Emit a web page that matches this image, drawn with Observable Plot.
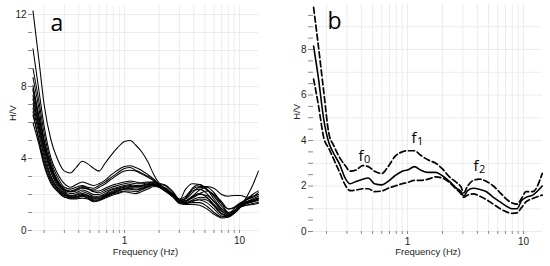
<!DOCTYPE html>
<html><head><meta charset="utf-8">
<script src="https://cdn.jsdelivr.net/npm/d3@7"></script>
<script src="https://cdn.jsdelivr.net/npm/@observablehq/plot@0.6"></script>
<style>
body{margin:0;background:#fff;}
#wrap{display:flex;width:550px;height:266px;overflow:hidden;}
#wrap svg{display:block;flex:none;}
</style></head><body><div id="wrap"></div>
<script>
// ---- Panel a: individual H/V curves ----
const freqA = [0.16, 0.18, 0.2, 0.23, 0.26, 0.3, 0.34, 0.38, 0.43, 0.48, 0.54, 0.6, 0.68, 0.77, 0.87, 1.0, 1.12, 1.25, 1.4, 1.6, 1.8, 2.0, 2.3, 2.65, 3.0, 3.4, 3.9, 4.5, 5.2, 6.0, 7.0, 8.0, 9.0, 10.2, 11.5, 13, 14.6];
const curveA = [12.2, 9.5, 7.0, 5.0, 4.0, 3.3, 3.2, 3.5, 3.85, 3.7, 3.45, 3.3, 3.75, 4.2, 4.6, 4.95, 5.0, 4.75, 4.4, 3.8, 3.1, 2.65, 2.5, 2.15, 1.75, 1.9, 2.3, 2.45, 2.45, 2.35, 2.0, 1.9, 1.95, 1.95, 1.85, 1.9, 2.0];
const curveB = [10.1, 7.8, 5.8, 4.0, 3.2, 2.6, 2.4, 2.55, 2.7, 2.6, 2.5, 2.6, 2.8, 3.1, 3.35, 3.55, 3.6, 3.5, 3.35, 3.1, 2.85, 2.6, 2.45, 2.1, 1.7, 2.3, 2.6, 2.55, 2.25, 1.95, 1.5, 1.2, 1.3, 1.55, 1.7, 1.85, 2.1];
const curveC = [9.0, 7.2, 5.4, 3.8, 3.0, 2.4, 2.3, 2.4, 2.5, 2.4, 2.35, 2.5, 2.7, 2.95, 3.2, 3.45, 3.5, 3.35, 3.2, 3.0, 2.8, 2.5, 2.35, 2.0, 1.65, 1.8, 2.2, 2.3, 2.05, 1.6, 1.2, 0.95, 1.1, 1.35, 1.55, 1.7, 1.8];
const curveD = [8.5, 6.8, 5.0, 3.6, 2.8, 2.3, 2.15, 2.25, 2.4, 2.3, 2.25, 2.4, 2.6, 2.85, 3.1, 3.3, 3.35, 3.3, 3.15, 2.95, 2.75, 2.5, 2.3, 1.95, 1.6, 1.65, 1.9, 2.05, 1.85, 1.45, 1.05, 0.9, 1.0, 1.3, 1.5, 1.6, 1.75];
const curveE = [8.05, 6.4, 5.0, 3.5, 2.7, 2.2, 2.05, 2.1, 2.25, 2.15, 2.0, 2.0, 2.15, 2.3, 2.4, 2.5, 2.55, 2.5, 2.5, 2.6, 2.65, 2.55, 2.3, 2.0, 1.65, 1.8, 2.35, 2.55, 2.3, 1.75, 1.2, 0.95, 1.2, 1.5, 1.6, 1.7, 1.8];
const curveF = [7.8, 6.1, 4.7, 3.3, 2.6, 2.15, 1.95, 2.0, 2.15, 2.05, 1.9, 1.9, 2.05, 2.25, 2.35, 2.45, 2.5, 2.45, 2.5, 2.55, 2.6, 2.5, 2.25, 1.95, 1.6, 1.6, 1.9, 2.25, 2.4, 2.1, 1.5, 1.0, 1.1, 1.45, 1.6, 1.75, 1.9];
const curveG = [7.5, 5.9, 4.5, 3.2, 2.5, 2.1, 1.9, 1.95, 2.05, 1.95, 1.8, 1.8, 1.95, 2.1, 2.25, 2.35, 2.4, 2.4, 2.45, 2.55, 2.6, 2.45, 2.2, 1.9, 1.6, 1.55, 1.7, 1.85, 1.8, 1.4, 0.95, 0.85, 1.0, 1.35, 1.5, 1.6, 1.7];
const curveH = [7.05, 5.6, 4.3, 3.0, 2.4, 2.05, 1.85, 1.85, 1.95, 1.85, 1.7, 1.7, 1.9, 2.05, 2.2, 2.3, 2.35, 2.3, 2.35, 2.45, 2.55, 2.4, 2.15, 1.85, 1.55, 1.5, 1.55, 1.55, 1.35, 1.0, 0.75, 0.8, 1.05, 1.4, 1.5, 1.6, 1.65];
const curveI = [6.4, 5.1, 3.9, 2.8, 2.3, 2.0, 1.8, 1.8, 1.9, 1.8, 1.65, 1.7, 1.85, 2.0, 2.1, 2.2, 2.2, 2.15, 2.25, 2.4, 2.5, 2.45, 2.2, 1.9, 1.55, 1.55, 1.65, 1.7, 1.55, 1.2, 0.8, 0.75, 0.95, 1.3, 1.4, 1.5, 1.55];
const curveJ = [6.0, 4.8, 3.6, 2.6, 2.2, 1.9, 1.75, 1.75, 1.8, 1.75, 1.6, 1.65, 1.8, 1.95, 2.05, 2.15, 2.1, 2.05, 2.15, 2.3, 2.45, 2.4, 2.15, 1.85, 1.5, 1.45, 1.45, 1.4, 1.2, 0.9, 0.7, 0.75, 1.0, 1.3, 1.4, 1.45, 1.5];
const curveK = [7.3, 5.8, 4.6, 3.4, 2.7, 2.25, 2.15, 2.2, 2.35, 2.3, 2.15, 2.1, 2.25, 2.4, 2.5, 2.6, 2.65, 2.6, 2.6, 2.65, 2.7, 2.55, 2.3, 2.0, 1.7, 1.75, 2.1, 2.4, 2.3, 1.9, 1.35, 1.0, 1.05, 1.4, 1.7, 2.0, 2.2];
const curveL = [6.8, 5.4, 4.1, 2.9, 2.35, 1.95, 1.9, 1.9, 2.0, 1.95, 1.85, 1.85, 2.0, 2.15, 2.3, 2.4, 2.45, 2.45, 2.4, 2.5, 2.6, 2.5, 2.2, 1.9, 1.6, 1.65, 1.85, 2.0, 1.95, 1.6, 1.1, 0.85, 0.95, 1.3, 1.85, 2.5, 3.3];
const curveM = [7.9, 6.3, 4.9, 3.6, 2.8, 2.3, 2.2, 2.3, 2.45, 2.35, 2.2, 2.2, 2.35, 2.5, 2.6, 2.7, 2.75, 2.7, 2.65, 2.7, 2.7, 2.55, 2.3, 2.0, 1.7, 1.65, 1.8, 2.05, 2.2, 2.0, 1.6, 1.2, 1.25, 1.5, 1.75, 1.85, 2.0];
const curveN = [6.6, 5.0, 3.7, 2.7, 2.2, 1.85, 1.8, 1.85, 1.95, 1.9, 1.75, 1.75, 1.9, 2.05, 2.15, 2.3, 2.3, 2.25, 2.3, 2.45, 2.55, 2.5, 2.25, 1.95, 1.6, 1.5, 1.6, 1.75, 1.7, 1.35, 0.9, 0.8, 1.05, 1.4, 1.55, 1.65, 1.75];

// ---- Panel b: mean and mean ± sd ----
const freqB = [0.155, 0.17, 0.19, 0.21, 0.23, 0.26, 0.29, 0.32, 0.36, 0.41, 0.46, 0.52, 0.6, 0.68, 0.78, 0.9, 1.0, 1.15, 1.3, 1.5, 1.75, 2.0, 2.3, 2.65, 2.9, 3.05, 3.3, 3.7, 4.2, 4.8, 5.5, 6.3, 7.2, 8.0, 8.8, 9.6, 10.5, 12, 14.5];
const upperB = [9.85, 8.2, 6.1, 4.3, 3.8, 3.25, 2.9, 2.65, 2.7, 2.9, 2.85, 2.65, 2.55, 2.85, 3.3, 3.5, 3.55, 3.55, 3.35, 3.15, 3.0, 2.75, 2.4, 2.15, 1.95, 1.7, 2.0, 2.25, 2.3, 2.2, 2.0, 1.7, 1.4, 1.25, 1.2, 1.45, 1.75, 1.75, 2.55];
const meanB = [8.15, 6.8, 4.9, 3.9, 3.45, 2.95, 2.35, 2.1, 2.2, 2.3, 2.35, 2.1, 2.05, 2.2, 2.45, 2.65, 2.7, 2.85, 2.7, 2.6, 2.6, 2.45, 2.2, 1.9, 1.75, 1.55, 1.8, 1.9, 1.85, 1.75, 1.5, 1.3, 1.1, 1.0, 1.0, 1.35, 1.5, 1.6, 2.0];
const lowerB = [6.7, 5.6, 4.1, 3.65, 3.2, 2.6, 2.05, 1.8, 1.82, 1.88, 1.88, 1.75, 1.78, 1.9, 2.0, 2.1, 2.15, 2.25, 2.25, 2.3, 2.4, 2.35, 2.15, 1.85, 1.65, 1.5, 1.6, 1.65, 1.55, 1.4, 1.2, 1.0, 0.85, 0.8, 0.82, 1.05, 1.3, 1.45, 1.6];

// annotations (peaks) in panel b
const peakFreq = [0.418, 1.196, 4.09];
const peakVal = [3.08, 3.87, 2.64];
const peakSub = ["0", "1", "2"];

// ticks and labels
const xTicks = [0.2, 0.3, 0.4, 0.5, 0.6, 0.7, 0.8, 0.9, 1, 2, 3, 4, 5, 6, 7, 8, 9, 10];
const xLabels = [0.5, 1, 5, 10];
const yTicksA = d3.range(0, 13, 1);
const yLabelsA = [0, 4, 8, 12];
const yTicksB = d3.range(0, 10, 0.5);
const yLabelsB = [0, 2, 4, 6, 8];
const yGridB = d3.range(0, 10, 1);

const curvesA = [curveA, curveB, curveC, curveD, curveE, curveF, curveG, curveH, curveI, curveJ, curveK, curveL, curveM, curveN];
const rowsA = curvesA.flatMap((c, i) => c.map((v, j) => ({f: freqA[j], v, id: i})));
const series = (arr, name) => arr.map((v, j) => ({f: freqB[j], v, s: name}));
const rowsMean = series(meanB, "mean");
const rowsBand = [...series(upperB, "upper"), ...series(lowerB, "lower")];
const peaks = peakFreq.map((f, i) => ({f, v: peakVal[i], sub: peakSub[i]}));

const font = "'Liberation Sans', Arial, Helvetica, sans-serif";
const gridColor = "#ececec";

const panelA = Plot.plot({
  width: 275, height: 266,
  marginLeft: 32, marginRight: 17, marginTop: 5, marginBottom: 36,
  x: {type: "log", domain: [0.1585, 14.63]},
  y: {domain: [0, 12.5]},
  style: {fontFamily: font, fontSize: "10px", color: "#222", background: "#fff"},
  marks: [
    Plot.gridX(xTicks, {stroke: gridColor, strokeOpacity: 1}),
    Plot.gridY(yTicksA, {stroke: gridColor, strokeOpacity: 1}),
    Plot.axisX(xTicks, {tickSize: 3, tickPadding: 3, stroke: "#888", fill: "#222", label: null,
      tickFormat: d => xLabels.includes(d) ? String(d) : ""}),
    Plot.axisY(yTicksA, {tickSize: 4, tickPadding: 2, stroke: "#888", fill: "#222", label: null,
      tickFormat: d => yLabelsA.includes(d) ? String(d) : ""}),
    Plot.line(rowsA, {x: "f", y: "v", z: "id", stroke: "#000", strokeWidth: 1.05, curve: "monotone-x"}),
    Plot.text(["Frequency (Hz)"], {frameAnchor: "bottom", dy: 24, fontSize: 9.5, fill: "#222"}),
    Plot.text(["H/V"], {frameAnchor: "left", dx: -20, dy: 3, rotate: -90, fontSize: 9.5, fill: "#222"}),
    Plot.text(["a"], {frameAnchor: "top-left", dx: 18, dy: 9, fontSize: 23, fontFamily: "'Open Sans', sans-serif", textAnchor: "start", fill: "#000"})
  ]
});

const panelB = Plot.plot({
  width: 275, height: 266,
  marginLeft: 38, marginRight: 8, marginTop: 3.5, marginBottom: 35,
  x: {type: "log", domain: [0.1547, 14.58]},
  y: {domain: [0, 10]},
  style: {fontFamily: font, fontSize: "10px", color: "#222", background: "#fff"},
  marks: [
    Plot.gridX(xTicks, {stroke: gridColor, strokeOpacity: 1}),
    Plot.gridY(yGridB, {stroke: gridColor, strokeOpacity: 1}),
    Plot.axisX(xTicks, {tickSize: 3, tickPadding: 3, stroke: "#888", fill: "#222", label: null,
      tickFormat: d => xLabels.includes(d) ? String(d) : ""}),
    Plot.axisY(yTicksB, {tickSize: 5, tickPadding: 2, stroke: "#888", fill: "#222", label: null,
      tickFormat: d => yLabelsB.includes(d) ? String(d) : ""}),
    Plot.line(rowsBand, {x: "f", y: "v", z: "s", stroke: "#000", strokeWidth: 1.7, strokeDasharray: "6,3", curve: "monotone-x"}),
    Plot.line(rowsMean, {x: "f", y: "v", stroke: "#000", strokeWidth: 1.6, curve: "monotone-x"}),
    Plot.text(peaks, {x: "f", y: "v", text: () => "f", textAnchor: "end", lineAnchor: "bottom", fontSize: 15, fontFamily: "'Open Sans', sans-serif", fill: "#000"}),
    Plot.text(peaks, {x: "f", y: "v", text: "sub", textAnchor: "start", lineAnchor: "bottom", dx: 0.5, dy: 1.5, fontSize: 11, fontFamily: "'Open Sans', sans-serif", fill: "#000"}),
    Plot.text(["Frequency (Hz)"], {frameAnchor: "bottom", dy: 23, fontSize: 9.5, fill: "#222"}),
    Plot.text(["H/V"], {frameAnchor: "left", dx: -17, dy: 2, rotate: -90, fontSize: 9.5, fill: "#222"}),
    Plot.text(["b"], {frameAnchor: "top-left", dx: 14, dy: 9, fontSize: 23, fontFamily: "'Open Sans', sans-serif", textAnchor: "start", fill: "#000"})
  ]
});

const wrap = document.getElementById("wrap");
wrap.appendChild(panelA);
wrap.appendChild(panelB);
</script>
</body></html>
